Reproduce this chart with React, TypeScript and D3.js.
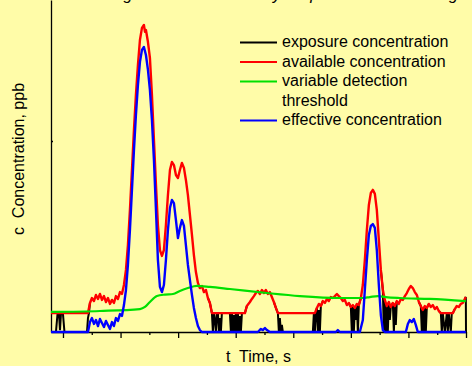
import React, { useRef, useEffect } from 'react';
import * as d3 from 'd3';

type Pt = [number, number]; // [time s, concentration ppb]

const W = 472;
const H = 366;

// available concentration (red)
const available: Pt[] = [
  [-2.08, 9.9], [4.34, 9.9], [4.69, 15.2], [5.03, 17.8], [5.38, 16.2], [5.73, 19.4], [6.08, 17.3],
  [6.42, 19.9], [6.77, 16.8], [7.12, 18.8], [7.47, 15.7], [7.81, 17.8], [8.16, 14.7], [8.51, 16.8],
  [8.85, 15.2], [9.2, 18.8], [9.55, 17.3], [9.9, 20.9], [10.24, 19.9], [10.59, 24.6], [10.94, 32.5],
  [11.28, 45.5], [11.63, 63.9], [11.98, 84.8], [12.33, 105.8], [12.67, 124.1], [13.02, 139.8],
  [13.37, 152.9], [13.72, 159.2], [14.06, 160.7], [14.24, 157.1], [14.41, 158.1], [14.76, 151.8],
  [15.1, 143.5], [15.45, 124.1], [15.8, 100.5], [16.15, 77.0], [16.49, 56.0], [16.84, 42.9],
  [17.19, 39.8], [17.53, 42.9], [17.88, 56.0], [18.23, 71.7], [18.58, 84.8], [18.92, 89.0],
  [19.27, 87.4], [19.62, 82.2], [19.97, 80.6], [20.31, 84.8], [20.66, 88.5], [21.01, 85.9],
  [21.35, 79.6], [21.7, 71.7], [22.05, 61.3], [22.4, 50.8], [22.74, 40.3], [23.09, 31.4],
  [23.44, 25.7], [23.78, 23.0], [24.13, 24.1], [24.48, 20.9], [24.83, 22.0], [25.17, 17.8],
  [25.52, 15.2], [25.87, 9.9], [31.6, 9.9], [31.94, 13.6], [32.47, 15.7], [32.81, 17.3],
  [33.16, 18.8], [33.51, 20.4], [33.85, 21.5], [34.2, 19.9], [34.55, 22.0], [34.9, 20.4],
  [35.24, 22.0], [35.59, 19.9], [35.94, 20.9], [36.28, 18.3], [36.63, 15.7], [36.98, 12.6],
  [37.33, 9.9], [43.75, 9.9], [44.1, 12.6], [44.44, 14.7], [44.79, 13.6], [45.14, 16.2],
  [45.49, 15.2], [45.83, 17.3], [46.18, 16.2], [46.53, 18.3], [46.88, 17.8], [47.22, 18.8],
  [47.57, 19.9], [47.92, 18.8], [48.26, 17.8], [48.61, 16.2], [48.96, 16.8], [49.31, 14.1],
  [49.65, 15.2], [50.0, 13.1], [50.35, 14.1], [50.69, 12.6], [51.04, 14.7], [51.39, 14.1],
  [51.74, 17.8], [52.08, 24.6], [52.43, 37.7], [52.78, 53.4], [53.13, 66.5], [53.47, 72.8],
  [53.82, 74.4], [54.17, 72.3], [54.51, 63.9], [54.86, 48.2], [55.21, 32.5], [55.56, 22.0],
  [55.9, 16.8], [56.25, 13.6], [56.6, 15.7], [56.94, 13.1], [57.29, 15.2], [57.64, 13.6],
  [57.99, 16.2], [58.33, 14.7], [58.68, 17.3], [59.03, 16.8], [59.38, 18.8], [59.72, 20.4],
  [60.07, 22.5], [60.42, 24.1], [60.76, 23.0], [61.11, 20.9], [61.46, 19.4], [61.81, 15.7],
  [62.15, 13.6], [62.5, 11.5], [62.85, 13.6], [63.19, 12.6], [63.54, 14.7], [63.89, 13.1],
  [64.24, 14.1], [64.58, 12.0], [64.93, 13.1], [65.28, 11.0], [65.63, 9.9], [67.71, 9.9],
  [68.06, 12.0], [68.4, 13.6], [68.75, 13.1], [69.1, 14.7], [69.44, 15.2], [69.79, 17.3], [69.97, 18.3],
];

// exposure concentration (black) - only the stretches where it drops below the available curve
const exposure: Pt[][] = [
  [[-2.08, 0], [-1.22, 0], [-0.95, 9.4], [-0.69, 9.4], [-0.52, 1.0], [-0.35, 9.4], [0, 9.4], [0.26, 0],
    [4.17, 0], [4.34, 7.3], [4.51, 9.9], [4.69, 15.2]],
  [[25.17, 17.8], [25.52, 15.2], [25.87, 9.9], [26.04, 0], [26.22, 9.9], [26.39, 6.3], [26.56, 0],
    [26.74, 9.9], [26.91, 9.9], [27.08, 0], [27.26, 7.3], [27.43, 0], [27.6, 9.9], [28.99, 9.9],
    [29.17, 0], [29.34, 9.9], [29.51, 0], [29.69, 8.9], [29.86, 0], [30.03, 9.9], [30.21, 0],
    [30.38, 9.9], [30.56, 0], [30.73, 8.4], [30.9, 0], [31.08, 9.9], [31.6, 9.9], [31.94, 13.6]],
  [[36.63, 15.7], [36.98, 12.6], [37.33, 9.9], [37.5, 0], [37.67, 7.3], [37.85, 0], [38.02, 3.7],
    [38.19, 0], [43.4, 0], [43.58, 9.9], [43.75, 0], [43.92, 9.9], [44.1, 12.6], [44.27, 0],
    [44.44, 11.5], [44.62, 0], [44.79, 13.6], [45.14, 16.2]],
  [[49.65, 15.2], [50.0, 13.1], [50.17, 0], [50.35, 14.1], [50.52, 0], [50.69, 12.6], [50.87, 6.3],
    [51.04, 14.7], [51.22, 0], [51.39, 14.1], [51.74, 17.8]],
  [[55.21, 32.5], [55.56, 22.0], [55.73, 0], [55.9, 16.8], [56.08, 0], [56.25, 13.6], [56.42, 0],
    [56.6, 15.7], [56.77, 6.3], [56.94, 13.1], [57.29, 15.2], [57.47, 0], [57.64, 13.6], [57.81, 3.7],
    [57.99, 16.2]],
  [[61.81, 15.7], [62.15, 13.6], [62.33, 0], [62.5, 11.5], [62.67, 0], [62.85, 13.6], [63.02, 0],
    [63.19, 12.6], [63.54, 14.7]],
  [[65.28, 11.0], [65.63, 9.9], [65.8, 0], [65.97, 9.9], [66.32, 0], [66.67, 9.9], [66.84, 0],
    [67.01, 9.9], [67.36, 0], [67.53, 9.9], [67.71, 9.9], [68.06, 12.0]],
  [[69.79, 17.3], [69.97, 18.3], [70.0, 0]],
];

// variable detection threshold (green)
const threshold: Pt[] = [
  [-2.08, 10.5], [6.42, 11.0], [13.37, 12.0], [14.24, 13.1], [15.1, 15.7], [16.32, 18.8],
  [17.71, 19.6], [19.1, 19.9], [20.31, 21.5], [21.7, 23.0], [23.26, 24.1], [25.52, 23.6],
  [28.99, 22.5], [35.42, 20.4], [41.15, 18.8], [48.09, 17.8], [52.08, 17.8], [53.3, 18.3],
  [54.69, 18.8], [56.08, 18.3], [58.51, 17.8], [63.72, 17.3], [69.97, 16.2],
];

// effective concentration (blue)
const effective: Pt[] = [
  [-2.08, 0], [4.34, 0], [4.69, 5.2], [5.03, 7.3], [5.38, 4.2], [5.73, 6.3], [6.08, 3.1], [6.42, 6.8],
  [6.77, 4.7], [7.12, 2.6], [7.47, 5.8], [7.81, 3.7], [8.16, 1.6], [8.51, 5.2], [8.85, 3.1], [9.2, 7.3],
  [9.55, 5.8], [9.9, 9.4], [10.24, 8.4], [10.59, 14.1], [10.94, 22.0], [11.28, 35.1], [11.63, 53.4],
  [11.98, 74.4], [12.33, 95.3], [12.67, 113.6], [13.02, 129.3], [13.37, 141.4], [13.72, 147.7],
  [14.06, 149.2], [14.41, 145.0], [14.76, 137.2], [15.1, 126.7], [15.45, 111.0], [15.8, 90.1],
  [16.15, 63.9], [16.49, 37.7], [16.84, 23.6], [17.19, 20.9], [17.53, 24.6], [17.88, 37.7],
  [18.23, 53.4], [18.58, 64.9], [18.92, 69.1], [19.27, 67.5], [19.62, 58.6], [19.97, 49.2],
  [20.31, 54.5], [20.66, 58.6], [21.01, 55.5], [21.35, 45.5], [21.7, 35.1], [22.05, 27.2],
  [22.4, 19.4], [22.74, 12.6], [23.09, 7.3], [23.44, 3.1], [23.78, 1.0], [24.13, 0], [33.85, 0],
  [34.38, 1.6], [34.72, 1.0], [35.07, 2.1], [35.42, 1.0], [35.94, 0], [47.4, 0], [47.74, 1.0],
  [48.09, 0], [51.56, 0], [52.08, 6.3], [52.43, 22.0], [52.78, 37.7], [53.13, 50.8], [53.47, 55.5],
  [53.82, 56.5], [54.17, 54.5], [54.51, 42.9], [54.86, 24.6], [55.21, 8.9], [55.56, 1.0], [55.9, 0],
  [59.55, 0], [59.9, 4.2], [60.24, 6.3], [60.59, 5.2], [60.94, 6.8], [61.28, 3.7], [61.63, 0], [69.97, 0],
];

const majorTicks = [0, 10, 20, 30, 40, 50, 60, 70];
const minorTicks = [5, 15, 25, 35, 45, 55, 65];
const concTicks = [100];

const legendItems = [
  { label: ['exposure concentration'], color: '#000000' },
  { label: ['available concentration'], color: '#ff0000' },
  { label: ['variable detection', 'threshold'], color: '#00e000' },
  { label: ['effective concentration'], color: '#0000ff' },
];

const FONT = 'Arial, "Liberation Sans", sans-serif';

export default function App() {
  const ref = useRef<SVGSVGElement | null>(null);

  useEffect(() => {
    if (!ref.current) return;
    const svg = d3.select(ref.current);
    svg.selectAll('*').remove();
    svg.attr('width', W).attr('height', H).style('display', 'block');

    svg.append('rect').attr('width', W).attr('height', H).attr('fill', '#fffca8');

    const x = d3.scaleLinear().domain([-2.08, 70]).range([51, 466]);
    const y = d3.scaleLinear().domain([0, 173.8]).range([332, 0]);

    // title sits above the picture, only its descenders show
    svg.append('text')
      .attr('x', 458).attr('y', 0)
      .attr('text-anchor', 'end')
      .style('font-family', FONT).style('font-size', '16px').style('font-style', 'italic')
      .text('Smoothing the concentration by simple threshold filtering');

    // axes
    const gx = svg.append('g').attr('transform', 'translate(0,332)');
    gx.call(d3.axisBottom(x).tickValues(majorTicks).tickSize(6).tickSizeOuter(0).tickFormat(() => ''));
    const gxm = svg.append('g').attr('transform', 'translate(0,332)');
    gxm.call(d3.axisBottom(x).tickValues(minorTicks).tickSize(3).tickSizeOuter(0).tickFormat(() => ''));
    gxm.select('.domain').remove();

    const gy = svg.append('g').attr('transform', 'translate(51,0)');
    gy.call(d3.axisLeft(y).tickValues(concTicks).tickSize(-2).tickSizeOuter(0).tickFormat(() => ''));

    svg.selectAll('.domain, .tick line').attr('stroke', '#000').attr('stroke-width', 1.3);

    const line = d3.line<Pt>().x(d => x(d[0])).y(d => y(d[1]));

    exposure.forEach(seg => {
      svg.append('path').datum(seg).attr('d', line)
        .attr('fill', 'none').attr('stroke', '#000').attr('stroke-width', 2);
    });
    svg.append('path').datum(available).attr('d', line)
      .attr('fill', 'none').attr('stroke', '#ff0000').attr('stroke-width', 2.4)
      .attr('stroke-linejoin', 'round');
    svg.append('path').datum(threshold).attr('d', line.curve(d3.curveMonotoneX))
      .attr('fill', 'none').attr('stroke', '#00e000').attr('stroke-width', 2.2);
    line.curve(d3.curveLinear);
    svg.append('path').datum(effective).attr('d', line)
      .attr('fill', 'none').attr('stroke', '#0000ff').attr('stroke-width', 2.4)
      .attr('stroke-linejoin', 'round');

    // legend
    let row = 0;
    legendItems.forEach(item => {
      const base = 47 + row * 19.5;
      svg.append('line')
        .attr('x1', 240).attr('x2', 277).attr('y1', base - 4.5).attr('y2', base - 4.5)
        .attr('stroke', item.color).attr('stroke-width', 2);
      item.label.forEach((t, i) => {
        svg.append('text')
          .attr('x', 282).attr('y', base + i * 19.5)
          .style('font-family', FONT).style('font-size', '16px').attr('fill', '#000')
          .text(t);
      });
      row += item.label.length;
    });

    // axis titles
    svg.append('text')
      .attr('x', 258.5).attr('y', 362)
      .attr('text-anchor', 'middle')
      .style('font-family', FONT).style('font-size', '16px')
      .style('white-space', 'pre')
      .text('t  Time, s');

    svg.append('text')
      .attr('transform', 'translate(24,159) rotate(-90)')
      .attr('text-anchor', 'middle')
      .style('font-family', FONT).style('font-size', '16px')
      .style('white-space', 'pre')
      .text('c  Concentration, ppb');
  }, []);

  return (
    <div style={{ position: 'absolute', left: 0, top: 0 }}>
      <svg ref={ref} />
    </div>
  );
}
